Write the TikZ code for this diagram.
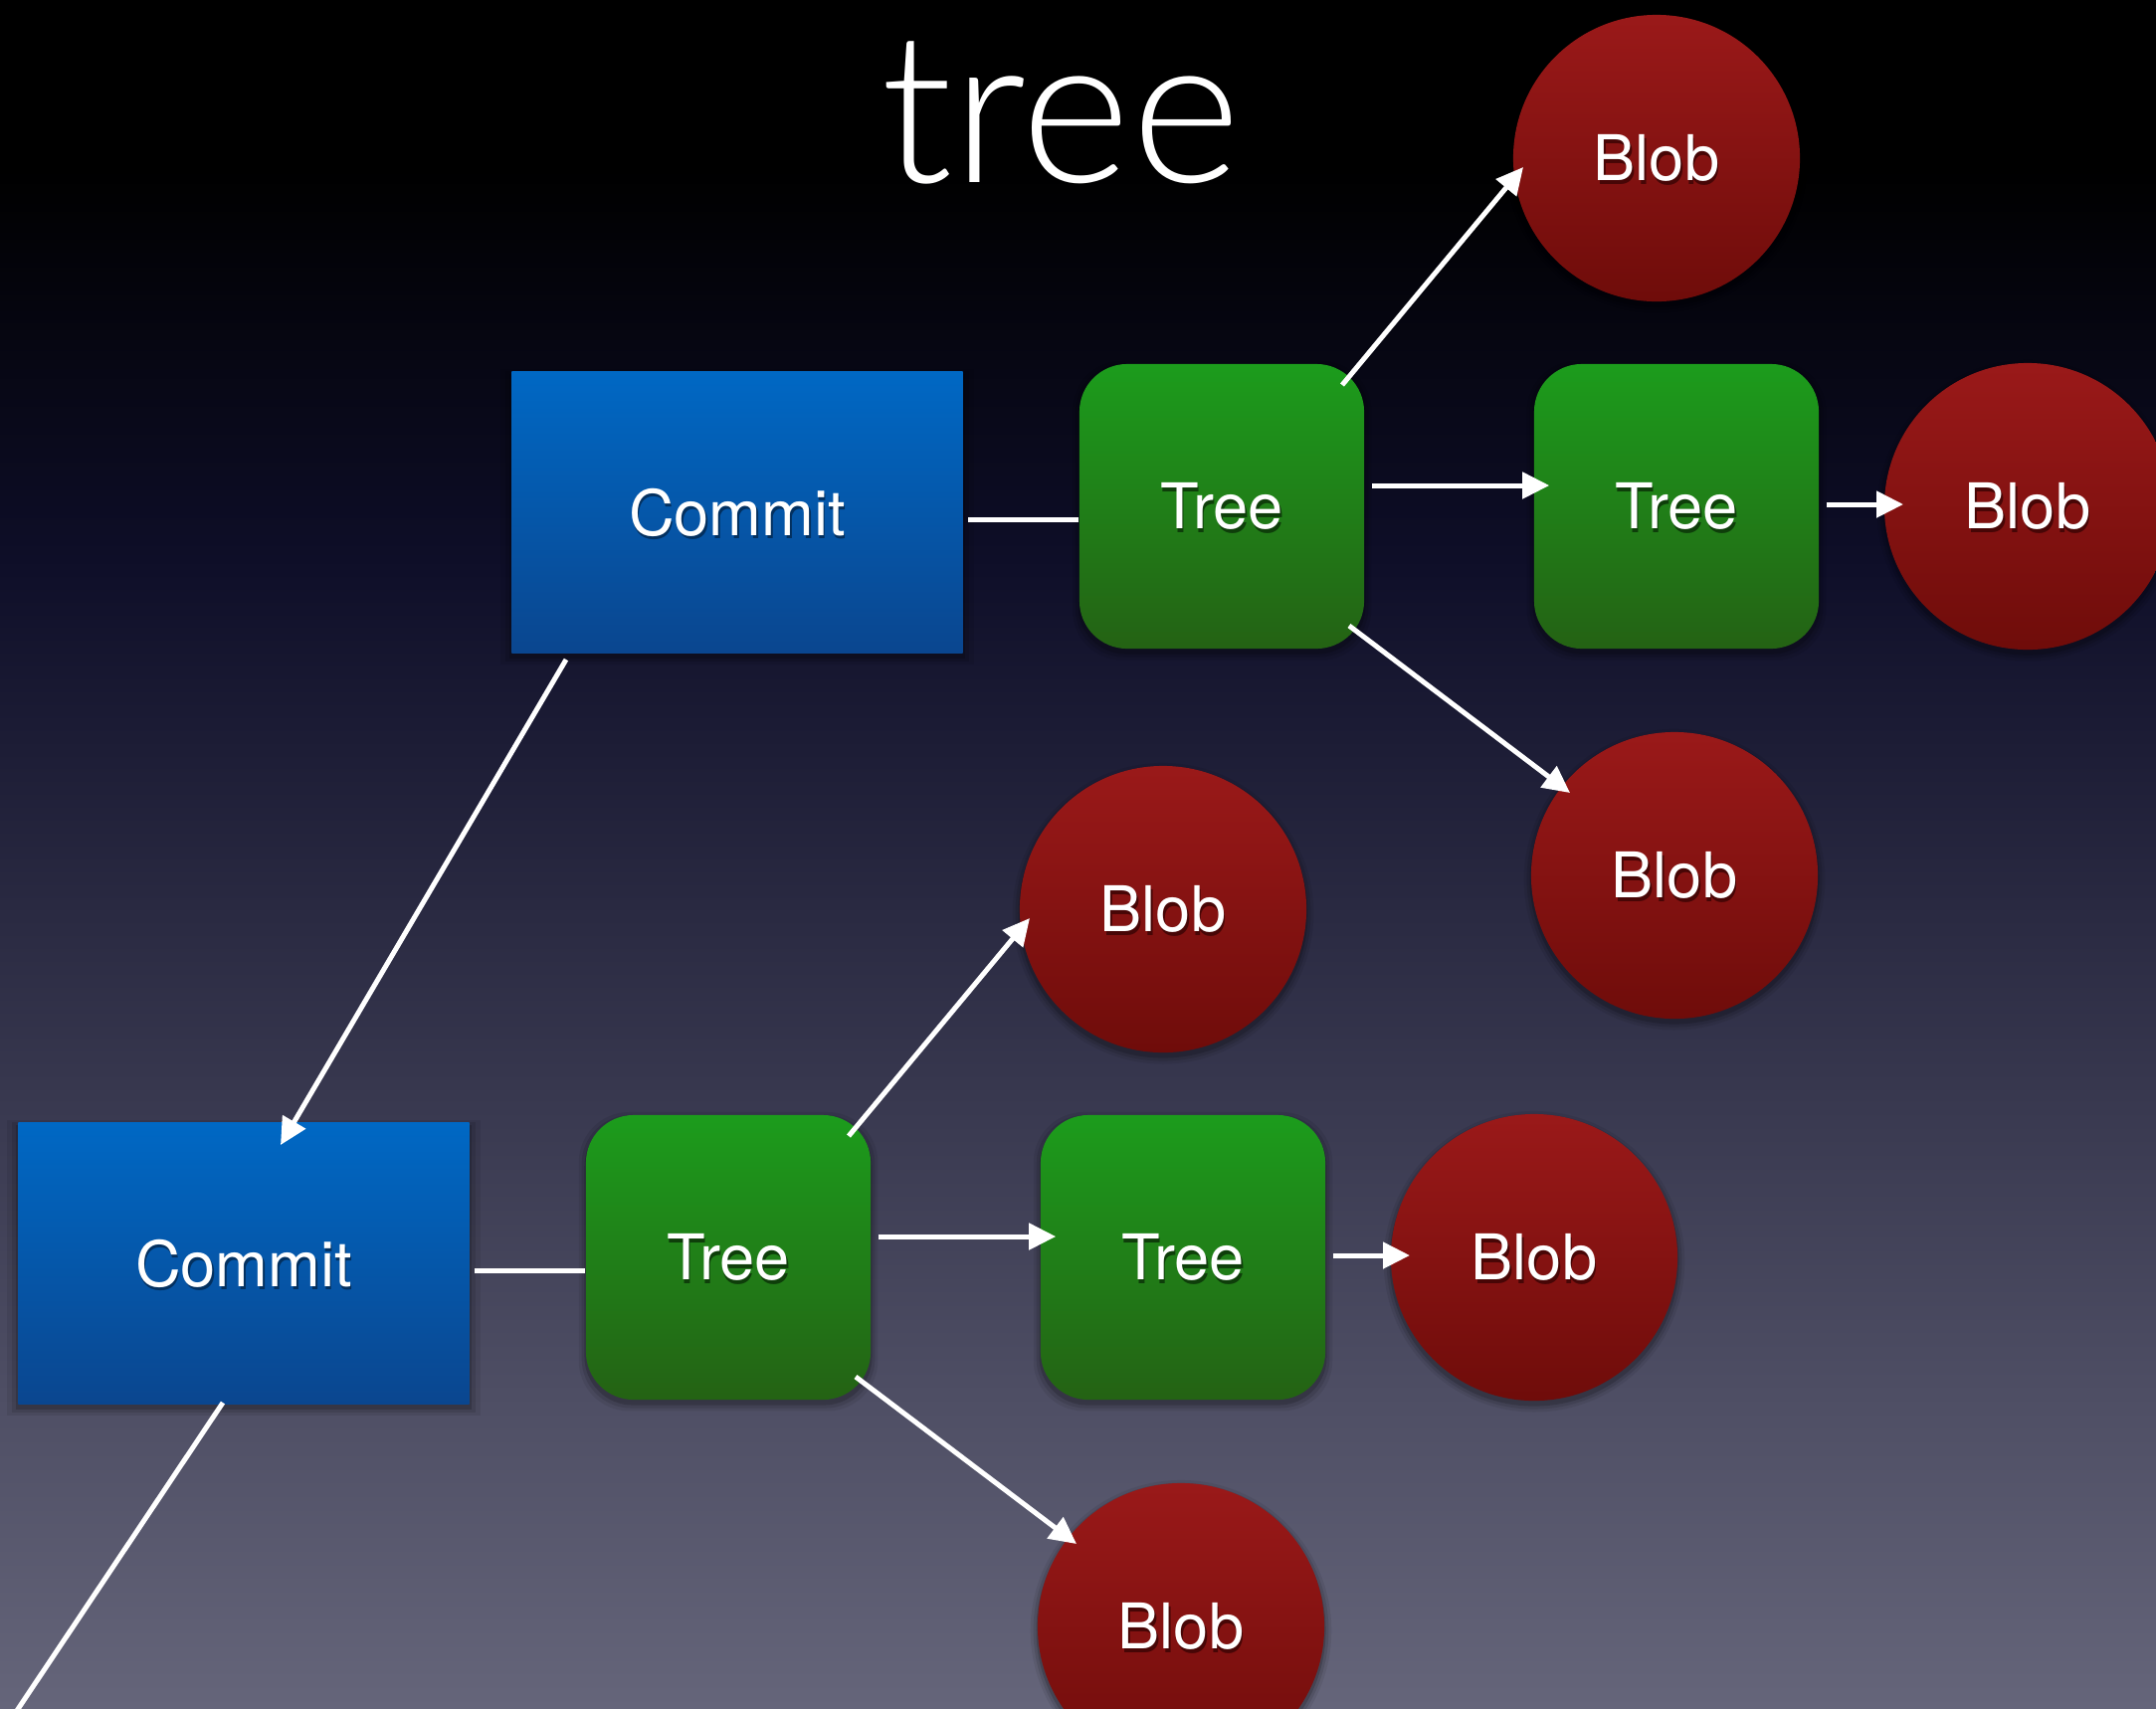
\documentclass[tikz,border=0pt]{standalone}
\usepackage{fontspec}
\setmainfont{TeX Gyre Heros}
\newfontfamily\titlefont{Lato Light}
\usetikzlibrary{arrows.meta,calc,shadows}

\definecolor{bgA}{HTML}{000000}
\definecolor{bgB}{HTML}{0E0E28}
\definecolor{bgC}{HTML}{38384F}
\definecolor{bgD}{HTML}{65657A}
\definecolor{commitTop}{HTML}{0068C4}
\definecolor{commitBot}{HTML}{0A468F}
\definecolor{commitShade}{HTML}{03305F}
\definecolor{treeTop}{HTML}{1C9C1C}
\definecolor{treeBot}{HTML}{246214}
\definecolor{treeShade}{HTML}{0E3E0A}
\definecolor{blobTop}{HTML}{9A1919}
\definecolor{blobBot}{HTML}{6F0C0A}
\definecolor{blobShade}{HTML}{470606}

% white label with a soft dark copy underneath
\newcommand\shtext[1]{\rlap{\raisebox{-1pt}[0pt][0pt]{\hspace{0.4pt}\color{\shcol}#1}}#1}

\tikzset{
  x=0.01cm, y=-0.01cm,
  lbl/.style={text=white, font=\fontsize{18}{20}\selectfont},
  % soft shadow built from a few faint, slightly growing copies
  boxshadow/.style={
    general shadow={shadow scale=1.05, shadow yshift=-0.04cm, opacity=0.07, fill=black},
    general shadow={shadow scale=1.03, shadow yshift=-0.04cm, opacity=0.10, fill=black},
    general shadow={shadow scale=1.01, shadow yshift=-0.04cm, opacity=0.16, fill=black}},
  commitbox/.style={lbl, rectangle, minimum width=4.53cm, minimum height=2.83cm,
    inner sep=0pt, top color=commitTop, bottom color=commitBot, boxshadow,
    execute at begin node={\def\shcol{commitShade}}},
  treebox/.style={lbl, rectangle, rounded corners=0.48cm, minimum width=2.86cm,
    minimum height=2.86cm, inner sep=0pt, top color=treeTop, bottom color=treeBot, boxshadow,
    execute at begin node={\def\shcol{treeShade}}},
  blobdisc/.style={lbl, circle, minimum size=2.88cm, inner sep=0pt,
    top color=blobTop, bottom color=blobBot, boxshadow,
    execute at begin node={\def\shcol{blobShade}}},
  link/.style={draw=white, line width=0.05cm},
  arr/.style={link, -{Triangle[length=0.27cm, width=0.26cm]}},
}

\begin{document}
\begin{tikzpicture}
\useasboundingbox (0,0) rectangle (2167,1717);
\clip (0,0) rectangle (2167,1717);

% background: black at the top fading to slate grey
\fill[bgA] (0,0) rectangle (2167,172);
\shade[top color=bgA, bottom color=bgB] (0,170) rectangle (2167,562);
\shade[top color=bgB, bottom color=bgC] (0,560) rectangle (2167,1102);
\shade[top color=bgC, bottom color=bgD] (0,1100) rectangle (2167,1717);

% title
\node[anchor=base, text=white, font=\titlefont\fontsize{60}{60}\selectfont] (title) at (1066,183) {tree};

% newer commit and its trees and blobs
\node[commitbox] (c1)  at (741,515)  {\shtext{Commit}};
\node[treebox]   (t1)  at (1228,509) {\shtext{Tree}};
\node[treebox]   (t1s) at (1685,509) {\shtext{Tree}};
\node[blobdisc]  (b1)  at (1665,159) {\shtext{Blob}};
\node[blobdisc]  (b1r) at (2038,509) {\shtext{Blob}};
\node[blobdisc]  (b1d) at (1683,880) {\shtext{Blob}};

% parent commit and its trees and blobs
\node[commitbox] (c2)  at (245,1270)  {\shtext{Commit}};
\node[treebox]   (t2)  at (732,1264)  {\shtext{Tree}};
\node[treebox]   (t2s) at (1189,1264) {\shtext{Tree}};
\node[blobdisc]  (b2)  at (1169,914)  {\shtext{Blob}};
\node[blobdisc]  (b2r) at (1542,1264) {\shtext{Blob}};
\node[blobdisc]  (b2d) at (1187,1635) {\shtext{Blob}};

\coordinate (prev) at (-10,1760);

% connectors of the newer commit
\draw[link] ($(c1.east)+(5,7)$) -- ($(t1.west)+(0,13)$);
\draw[arr] ($(t1.east)+(7,-21)$) -- ($(t1s.west)+(16,-21)$);
\draw[arr] ($(t1.center)+(121,-122)$) -- ($(b1.center)+(-134,9)$);
\draw[arr] ($(t1.center)+(128,120)$) -- ($(b1d.center)+(-105,-83)$);
\draw[arr] ($(t1s.east)+(7,-2)$) -- ($(b1r.center)+(-125,-2)$);
\draw[arr] ($(c1.center)+(-172,148)$) -- ($(c2.center)+(37,-119)$);

% connectors of the parent commit
\draw[link] ($(c2.east)+(5,7)$) -- ($(t2.west)+(0,13)$);
\draw[arr] ($(t2.east)+(7,-21)$) -- ($(t2s.west)+(16,-21)$);
\draw[arr] ($(t2.center)+(121,-122)$) -- ($(b2.center)+(-134,9)$);
\draw[arr] ($(t2.center)+(128,120)$) -- ($(b2d.center)+(-105,-83)$);
\draw[arr] ($(t2s.east)+(7,-2)$) -- ($(b2r.center)+(-125,-2)$);
\draw[link] ($(c2.center)+(-21,140)$) -- (prev);
\end{tikzpicture}
\end{document}
